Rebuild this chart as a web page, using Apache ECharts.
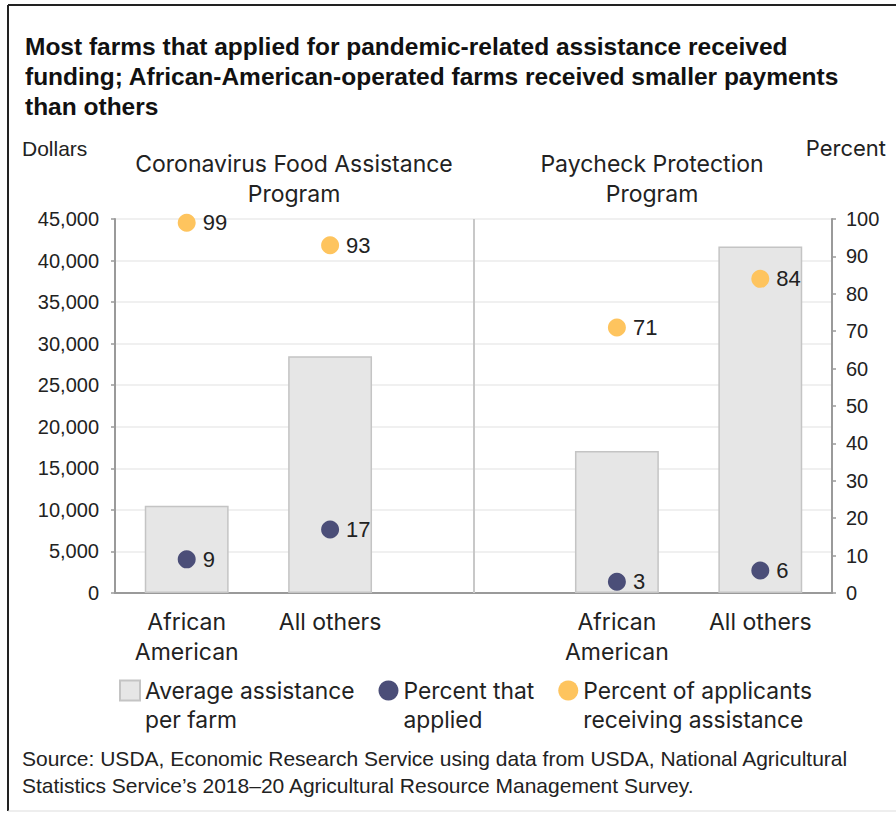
<!DOCTYPE html>
<html>
<head>
<meta charset="utf-8">
<script src="https://cdn.jsdelivr.net/npm/echarts@6/dist/echarts.min.js"></script>
<style>
  html, body { margin: 0; padding: 0; background: #fff; }
  #chart { width: 896px; height: 813px; }
</style>
</head>
<body>
<div id="chart"></div>
<script>
// ---- data ----
const categories = ['African\nAmerican', 'All others', '', 'African\nAmerican', 'All others'];
const programs = ['Coronavirus Food Assistance\nProgram', 'Paycheck Protection\nProgram'];
const avgAssistance = [10500, 28500, null, 17100, 41700];
const pctApplied = [9, 17, null, 3, 6];
const pctReceived = [99, 93, null, 71, 84];
const dollarTicks = { min: 0, max: 45000, interval: 5000 };
const percentTicks = { min: 0, max: 100, interval: 10 };
const seriesNames = ['Average assistance\nper farm', 'Percent that\napplied', 'Percent of applicants\nreceiving assistance'];
const dividerCategory = 2;

const FONT = '"Liberation Sans", Arial, sans-serif';
const FONT2 = 'Inter, "Liberation Sans", Arial, sans-serif';
const TXT = '#222';

const chart = echarts.init(document.getElementById('chart'), null, { renderer: 'svg' });

const option = {
  backgroundColor: '#fff',
  animation: false,
  textStyle: { fontFamily: FONT },
  title: [
    {
      text: 'Most farms that applied for pandemic-related assistance received\nfunding; African-American-operated farms received smaller payments\nthan others',
      left: 20, top: 26,
      textStyle: { fontFamily: FONT, fontWeight: 'bold', fontSize: 24.5, lineHeight: 30, color: '#111' }
    }
  ],
  graphic: [
    { type: 'line', shape: { x1: 8, y1: 5, x2: 896, y2: 5 }, style: { stroke: '#222', lineWidth: 2 } },
    { type: 'line', shape: { x1: 8, y1: 5, x2: 8, y2: 811 }, style: { stroke: '#222', lineWidth: 2 } },
    { type: 'line', shape: { x1: 8, y1: 811, x2: 896, y2: 811 }, style: { stroke: '#ddd', lineWidth: 1 } },
    { type: 'text', left: 22, top: 138, style: { text: 'Dollars', font: '21px ' + FONT, fill: TXT } },
    { type: 'text', right: 10, top: 137, style: { text: 'Percent', font: '22px ' + FONT2, fill: TXT } },
    { type: 'text', x: 294, y: 149, style: { text: programs[0], font: '23px ' + FONT2, fill: TXT, align: 'center', lineHeight: 30 } },
    { type: 'text', x: 652, y: 149, style: { text: programs[1], font: '23px ' + FONT2, fill: TXT, align: 'center', lineHeight: 30 } },
    { type: 'text', left: 22, top: 745, style: { text: 'Source: USDA, Economic Research Service using data from USDA, National Agricultural\nStatistics Service\u2019s 2018\u201320 Agricultural Resource Management Survey.', font: '21px ' + FONT, fill: TXT, lineHeight: 27 } }
  ],
  legend: {
    left: 114, top: 642,
    itemWidth: 20, itemHeight: 20, itemGap: 24,
    data: [
      { name: seriesNames[0], icon: 'rect' },
      { name: seriesNames[1], icon: 'circle' },
      { name: seriesNames[2], icon: 'circle' }
    ],
    formatter: function (n) { return ' \n' + n; },
    textStyle: { fontFamily: FONT2, fontSize: 22.8, lineHeight: 29, color: TXT }
  },
  grid: { left: 115, right: 64, top: 219, bottom: 220, containLabel: false },
  xAxis: {
    type: 'category',
    data: categories,
    axisLine: { lineStyle: { color: '#9a9a9a', width: 2 } },
    axisTick: { show: false },
    axisLabel: { fontFamily: FONT2, fontSize: 23, lineHeight: 30, color: TXT, margin: 14, interval: 0 }
  },
  yAxis: [
    {
      type: 'value', min: dollarTicks.min, max: dollarTicks.max, interval: dollarTicks.interval,
      axisLine: { show: true, lineStyle: { color: '#9a9a9a', width: 2 } },
      axisTick: { show: true, length: 4, lineStyle: { color: '#9a9a9a', width: 1.5 } },
      splitLine: { lineStyle: { color: '#ebebeb', width: 1.5 } },
      axisLabel: { fontFamily: FONT, fontSize: 20, color: TXT, margin: 16 }
    },
    {
      type: 'value', min: percentTicks.min, max: percentTicks.max, interval: percentTicks.interval,
      position: 'right',
      axisLine: { show: true, lineStyle: { color: '#9a9a9a', width: 2 } },
      axisTick: { show: true, length: 4, lineStyle: { color: '#9a9a9a', width: 1.5 } },
      splitLine: { show: false },
      axisLabel: { fontFamily: FONT, fontSize: 20, color: TXT, margin: 14 }
    }
  ],
  series: [
    {
      name: seriesNames[0], type: 'bar', yAxisIndex: 0, data: avgAssistance,
      barWidth: '58.5%',
      itemStyle: { color: '#e6e6e6', borderColor: '#c4c4c4', borderWidth: 1.5 },
      markLine: {
        silent: true, symbol: 'none', label: { show: false },
        lineStyle: { color: '#c8c8c8', width: 2, type: 'solid' },
        data: [{ xAxis: dividerCategory }]
      }
    },
    {
      name: seriesNames[1], type: 'scatter', yAxisIndex: 1, data: pctApplied,
      symbolSize: 18, itemStyle: { color: '#4b4e78', opacity: 1 },
      label: { show: true, position: 'right', distance: 7, fontFamily: FONT, fontSize: 22, color: TXT }
    },
    {
      name: seriesNames[2], type: 'scatter', yAxisIndex: 1, data: pctReceived,
      symbolSize: 18, itemStyle: { color: '#fec45e', opacity: 1 },
      label: { show: true, position: 'right', distance: 7, fontFamily: FONT, fontSize: 22, color: TXT }
    }
  ]
};
chart.setOption(option);
</script>
</body>
</html>
